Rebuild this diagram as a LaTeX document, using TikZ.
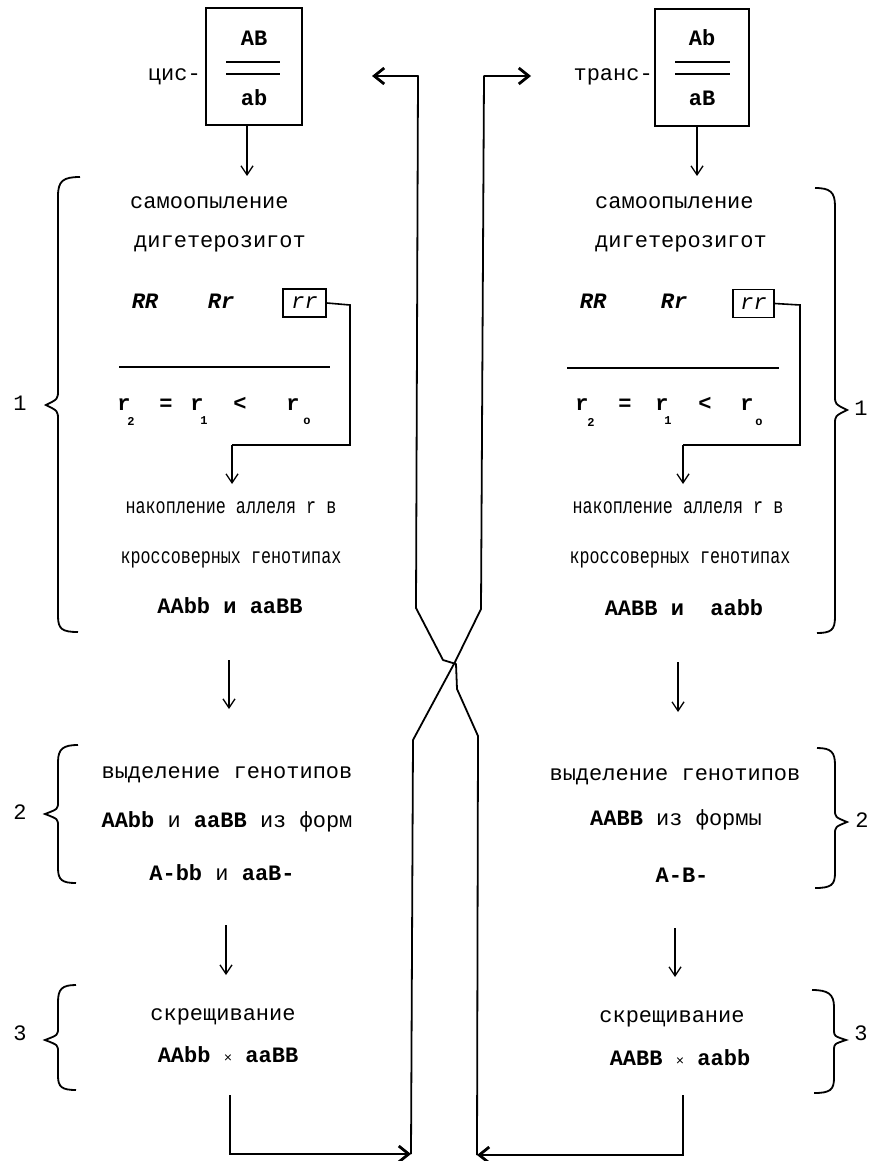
\documentclass[tikz,border=0pt]{standalone}
\usepackage{fontspec}
\setmainfont{Liberation Mono}
\newfontfamily\condmono[FakeStretch=0.76]{Liberation Mono}
\usetikzlibrary{arrows.meta}
\tikzset{
  txt/.style={font=\fontsize{22}{26}\selectfont, inner sep=0pt, text height=15pt, text depth=4pt},
  txtsm/.style={font=\condmono\fontsize{22}{26}\selectfont, inner sep=0pt, text height=15pt, text depth=4pt},
  gen/.style={txt, font=\fontsize{22}{26}\selectfont\bfseries},
  sub/.style={font=\fontsize{12}{14}\selectfont\bfseries, inner sep=0pt},
  ln/.style={line width=1.6pt},
  arr/.style={line width=1.3pt, -{Straight Barb[length=9pt,width=12pt,line width=1.3pt]}},
  bigarr/.style={line width=1.8pt, -{Straight Barb[length=10pt,width=16pt,line width=2.8pt]}},
  br/.style={line width=1.8pt},
  gbox/.style={draw, line width=2pt, inner sep=0pt},
}
\begin{document}
\begin{tikzpicture}[x=1pt,y=-1pt]
\useasboundingbox (0,0) rectangle (872,1161);

% ---------- top boxes ----------
\node[gbox, minimum width=96pt, minimum height=117pt] (cisbox) at (254,66.5) {};
\node[gen] (cisAB) at (254,40) {AB};
\node[gen] (cisab) at (254,100) {ab};
\coordinate (cl1a) at (226,62); \coordinate (cl1b) at (280,62);
\coordinate (cl2a) at (226,74); \coordinate (cl2b) at (280,74);
\draw[line width=2pt] (cl1a) -- (cl1b) (cl2a) -- (cl2b);
\node[txt, anchor=east] (cis) at (201,75) {цис-};

\node[gbox, minimum width=94pt, minimum height=117pt] (trbox) at (702,67.5) {};
\node[gen] (trAb) at (702,40) {Ab};
\node[gen] (traB) at (702,100) {aB};
\coordinate (tl1a) at (675,62); \coordinate (tl1b) at (730,62);
\coordinate (tl2a) at (675,74); \coordinate (tl2b) at (730,74);
\draw[line width=2pt] (tl1a) -- (tl1b) (tl2a) -- (tl2b);
\node[txt, anchor=east] (tr) at (653,75) {транс-};

% ---------- left column ----------
\coordinate (Lt0) at (247,125); \coordinate (Lt1) at (247,176);
\draw[arr] (Lt0) -- (Lt1);
\node[txt, anchor=west] (Lsamo) at (130,203) {самоопыление};
\node[txt, anchor=west] (Ldig) at (134,242) {дигетерозигот};
\node[txt, font=\fontsize{22}{26}\selectfont\bfseries\itshape] (LRR) at (145,303) {RR};
\node[txt, font=\fontsize{22}{26}\selectfont\bfseries\itshape] (LRr) at (221,303) {Rr};
\node[draw, line width=1.8pt, minimum width=43pt, minimum height=28pt, inner sep=0pt,
      font=\fontsize{22}{26}\selectfont\itshape] (Lrr) at (304.5,303) {rr};
\coordinate (Lfa) at (119,367); \coordinate (Lfb) at (330,367);
\draw[line width=2pt] (Lfa) -- (Lfb);
\node[gen] (Lr2) at (124,405) {r}; \node[sub] (Lr2s) at (131,421) {2};
\node[gen] (Leq) at (166,405) {=};
\node[gen] (Lr1) at (197,405) {r}; \node[sub] (Lr1s) at (204,421) {1};
\node[gen] (Llt) at (240,405) {<};
\node[gen] (Lr0) at (293,405) {r}; \node[sub] (Lr0s) at (307,421) {o};
\coordinate (Lc1) at (350,305); \coordinate (Lc2) at (350,445); \coordinate (Lc3) at (232,445);
\coordinate (Lc4) at (232,484);
\draw[ln] (Lrr.east) -- (Lc1) -- (Lc2) -- (Lc3);
\draw[arr] (Lc3) -- (Lc4);
\node[txtsm] (Lnak) at (231,508) {накопление аллеля r в};
\node[txtsm] (Lkro) at (231,558) {кроссоверных генотипах};
\node[txt] (Lg1) at (230,608) {\bfseries AAbb и aaBB};

\coordinate (La2a) at (229,660); \coordinate (La2b) at (229,709);
\draw[arr] (La2a) -- (La2b);
\node[txt] (Lvyd) at (227,773) {выделение генотипов};
\node[txt] (Lg2) at (227,822) {{\bfseries AAbb} и {\bfseries aaBB} из форм};
\node[txt] (Lg3) at (222,875) {{\bfseries A-bb} и {\bfseries aaB-}};

\coordinate (La3a) at (226,925); \coordinate (La3b) at (226,975);
\draw[arr] (La3a) -- (La3b);
\node[txt] (Lskr) at (223,1015) {скрещивание};
\node[txt] (Lg4) at (228,1057) {{\bfseries AAbb} {\fontsize{14}{16}\selectfont×} {\bfseries aaBB}};

% ---------- right column ----------
\coordinate (Rt0) at (697,126); \coordinate (Rt1) at (697,176);
\draw[arr] (Rt0) -- (Rt1);
\node[txt, anchor=west] (Rsamo) at (595,203) {самоопыление};
\node[txt, anchor=west] (Rdig) at (595,242) {дигетерозигот};
\node[txt, font=\fontsize{22}{26}\selectfont\bfseries\itshape] (RRR) at (593,303) {RR};
\node[txt, font=\fontsize{22}{26}\selectfont\bfseries\itshape] (RRr) at (674,303) {Rr};
\node[draw, line width=1.8pt, minimum width=41pt, minimum height=28pt, inner sep=0pt,
      font=\fontsize{22}{26}\selectfont\itshape] (Rrr) at (753.5,303.5) {rr};
\coordinate (Rfa) at (567,368); \coordinate (Rfb) at (779,368);
\draw[line width=2pt] (Rfa) -- (Rfb);
\node[gen] (Rr2) at (582,405) {r}; \node[sub] (Rr2s) at (591,422) {2};
\node[gen] (Req) at (625,405) {=};
\node[gen] (Rr1) at (662,405) {r}; \node[sub] (Rr1s) at (668,421) {1};
\node[gen] (Rlt) at (705,405) {<};
\node[gen] (Rr0) at (747,405) {r}; \node[sub] (Rr0s) at (759,422) {o};
\coordinate (Rc1) at (800,305); \coordinate (Rc2) at (800,445); \coordinate (Rc3) at (683,445);
\coordinate (Rc4) at (683,484);
\draw[ln] (Rrr.east) -- (Rc1) -- (Rc2) -- (Rc3);
\draw[arr] (Rc3) -- (Rc4);
\node[txtsm] (Rnak) at (678,508) {накопление аллеля r в};
\node[txtsm] (Rkro) at (680,558) {кроссоверных генотипах};
\node[txt] (Rg1) at (684,610) {\bfseries AABB и\ \ aabb};

\coordinate (Ra2a) at (678,662); \coordinate (Ra2b) at (678,712);
\draw[arr] (Ra2a) -- (Ra2b);
\node[txt] (Rvyd) at (675,775) {выделение генотипов};
\node[txt] (Rg2) at (676,820) {{\bfseries AABB} из формы};
\node[txt] (Rg3) at (682,877) {\bfseries A-B-};

\coordinate (Ra3a) at (675,928); \coordinate (Ra3b) at (675,977);
\draw[arr] (Ra3a) -- (Ra3b);
\node[txt] (Rskr) at (672,1017) {скрещивание};
\node[txt] (Rg4) at (680,1060) {{\bfseries AABB} {\fontsize{14}{16}\selectfont×} {\bfseries aabb}};

% ---------- braces ----------
\draw[br] (80,177) .. controls (63,177) and (58,181) .. (58,196) -- (58,390)
  .. controls (58,399) .. (46,405) .. controls (58,411) .. (58,420) -- (58,616)
  .. controls (58,629) and (62,632) .. (78,632);
\draw[br] (78,745) .. controls (63,745) and (58,749) .. (58,762) -- (58,802)
  .. controls (58,809) .. (45,814) .. controls (58,819) .. (58,826) -- (58,868)
  .. controls (58,880) and (62,883) .. (76,883);
\draw[br] (76,985) .. controls (62,985) and (58,989) .. (58,1002) -- (58,1028)
  .. controls (58,1035) .. (45,1040) .. controls (58,1045) .. (58,1052) -- (58,1076)
  .. controls (58,1087) and (62,1090) .. (76,1090);

\draw[br] (815,188) .. controls (830,188) and (835,192) .. (835,206) -- (835,396)
  .. controls (835,404) .. (847,410) .. controls (835,416) .. (835,424) -- (835,617)
  .. controls (835,630) and (831,633) .. (817,633);
\draw[br] (817,748) .. controls (831,748) and (835,752) .. (835,765) -- (835,810)
  .. controls (835,817) .. (847,822) .. controls (835,827) .. (835,834) -- (835,873)
  .. controls (835,885) and (831,888) .. (815,888);
\draw[br] (812,990) .. controls (828,990) and (834,994) .. (834,1007) -- (834,1030)
  .. controls (834,1036) .. (846,1040) .. controls (834,1044) .. (834,1050) -- (834,1078)
  .. controls (834,1090) and (830,1093) .. (814,1093);

\node[txt] (L1) at (20,405) {1};
\node[txt] (L2) at (20,814) {2};
\node[txt] (L3) at (20,1035) {3};
\node[txt] (R1) at (861,410) {1};
\node[txt] (R2) at (862,822) {2};
\node[txt] (R3) at (861,1035) {3};

% ---------- return / crossing paths ----------
\coordinate (Lb0) at (230,1095); \coordinate (Lb1) at (230,1154); \coordinate (JL) at (411,1154);
\coordinate (Rb0) at (683,1095); \coordinate (Rb1) at (683,1155); \coordinate (JR) at (477,1155);
\draw[bigarr] (Lb0) -- (Lb1) -- (JL);
\draw[bigarr] (Rb0) -- (Rb1) -- (JR);

\coordinate (B1) at (413,740); \coordinate (X) at (455,662); \coordinate (B2) at (481,609);
\coordinate (B3) at (484,76); \coordinate (Btip) at (531,76);
\draw[bigarr, line join=round] (JL) -- (B1) -- (X) -- (B2) -- (B3) -- (Btip);

\coordinate (A1) at (478,736); \coordinate (A2) at (457,689); \coordinate (A3) at (456,664);
\coordinate (A4) at (443,660); \coordinate (A5) at (416,608); \coordinate (A6) at (418,76);
\coordinate (Atip) at (372,76);
\draw[bigarr, line join=round] (JR) -- (A1) -- (A2) -- (A3) -- (A4) -- (A5) -- (A6) -- (Atip);
\end{tikzpicture}
\end{document}
